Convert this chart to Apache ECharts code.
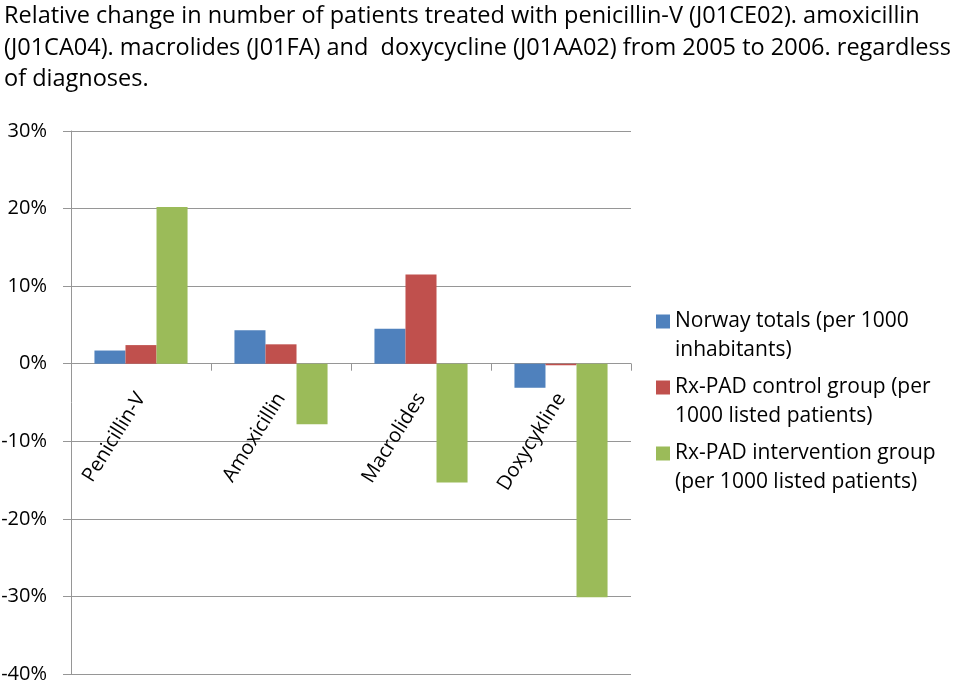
<!DOCTYPE html>
<html>
<head>
<meta charset="utf-8">
<script src="https://cdn.jsdelivr.net/npm/echarts@6/dist/echarts.min.js"></script>
<style>
html,body{margin:0;padding:0;background:#fff;}
#chart{width:960px;height:682px;}
</style>
</head>
<body>
<div id="chart"></div>
<script>
const titleText = "Relative change in number of patients treated with penicillin-V (J01CE02). amoxicillin\n(J01CA04). macrolides (J01FA) and  doxycycline (J01AA02) from 2005 to 2006. regardless\nof diagnoses.";
const categories = ["Penicillin-V", "Amoxicillin", "Macrolides", "Doxycykline"];
const seriesNames = ["Norway totals (per 1000\ninhabitants)", "Rx-PAD control group (per\n1000 listed patients)", "Rx-PAD intervention group\n(per 1000 listed patients)"];
const norwayTotals = [1.7, 4.3, 4.5, -3.1];
const controlGroup = [2.4, 2.5, 11.5, -0.2];
const interventionGroup = [20.2, -7.8, -15.3, -30.1];
const yMin = -40, yMax = 30, yStep = 10;

const FONT = "Open Sans";
const colors = ["#4F81BD", "#C0504D", "#9BBB59"];
const axisGray = "#969696";

const gridTop = 131, gridBottomPx = 674;
const zeroOffset = -(gridBottomPx - gridTop) * (0 - yMin) / (yMax - yMin);

const chart = echarts.init(document.getElementById('chart'));
chart.setOption({
  animation: false,
  backgroundColor: '#fff',
  textStyle: { fontFamily: FONT },
  title: {
    text: titleText,
    left: 4, top: 1, padding: 0,
    textStyle: { fontFamily: FONT, fontSize: 23.5, fontWeight: 'normal', color: '#000', lineHeight: 31.5 }
  },
  grid: { left: 71, right: 329, top: gridTop, bottom: 682 - gridBottomPx, containLabel: false, outerBoundsMode: 'none' },
  legend: {
    orient: 'vertical',
    left: 656, top: 278, padding: 0,
    itemWidth: 14, itemHeight: 14, itemGap: -21,
    icon: 'rect',
    formatter: name => '\n' + name,
    textStyle: { fontFamily: FONT, fontSize: 21, lineHeight: 29, color: '#000' },
    data: seriesNames
  },
  xAxis: {
    type: 'category',
    data: categories,
    offset: zeroOffset,
    axisLine: { onZero: false, lineStyle: { color: axisGray, width: 1 } },
    axisTick: { show: true, length: 7, lineStyle: { color: axisGray } },
    axisLabel: { rotate: 58, margin: 31, fontSize: 20, color: '#000', fontFamily: FONT, interval: 0 },
    splitLine: { show: false }
  },
  yAxis: {
    type: 'value',
    min: yMin, max: yMax, interval: yStep,
    axisLine: { show: true, lineStyle: { color: axisGray, width: 1 } },
    axisTick: { show: true, length: 8, lineStyle: { color: axisGray } },
    axisLabel: { formatter: '{value}%', margin: 24, fontSize: 20, color: '#000', fontFamily: FONT },
    splitLine: { show: true, lineStyle: { color: axisGray, width: 1 } }
  },
  series: [
    { name: seriesNames[0], type: 'bar', data: norwayTotals, itemStyle: { color: colors[0] }, barGap: '0%', barCategoryGap: '33.5%' },
    { name: seriesNames[1], type: 'bar', data: controlGroup, itemStyle: { color: colors[1] }, barGap: '0%', barCategoryGap: '33.5%' },
    { name: seriesNames[2], type: 'bar', data: interventionGroup, itemStyle: { color: colors[2] }, barGap: '0%', barCategoryGap: '33.5%' }
  ]
});
</script>
</body>
</html>
